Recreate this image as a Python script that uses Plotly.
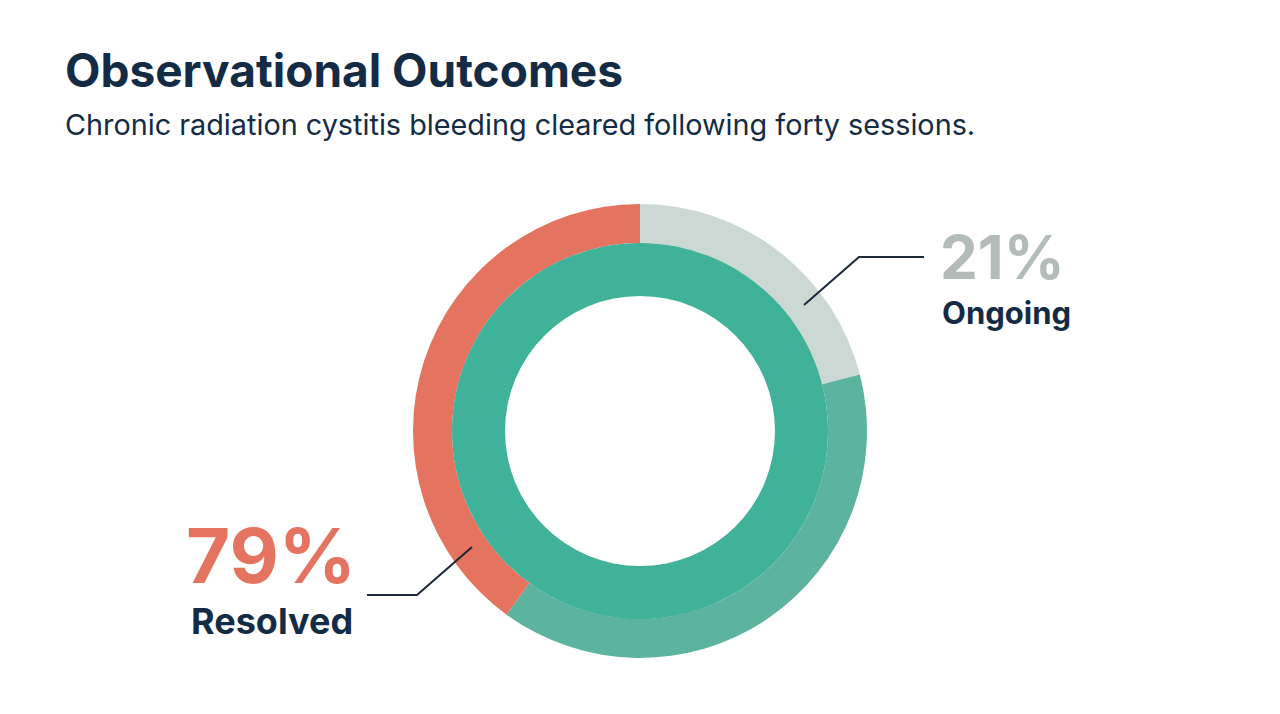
import plotly.graph_objects as go

# ---- data ----
outcome_labels = ["Resolved", "Ongoing"]
outcome_pct = [79, 21]

# outer ring arcs (clockwise from 12 o'clock), % of circle
outer_labels = ["Ongoing", "Resolved (lower arc)", "Resolved (left arc)"]
outer_values = [21, 39, 40]

# inner ring: one full band
inner_labels = ["Sessions"]
inner_values = [40]

title_text = "Observational Outcomes"
subtitle_text = "Chronic radiation cystitis bleeding cleared following forty sessions."

W, H = 1280, 714
NAVY = "#132B45"
RED = "#E4735F"
GRAY = "#CBD8D4"
TEAL_OUT = "#5CB3A0"
TEAL_IN = "#40B29A"
GRAY_TEXT = "#B3BCB9"
FONT = "Inter"


def px(x):
    return x / W


def py(y):
    return 1 - y / H


cx, cy = 640, 431
r_out, r_mid, r_in = 227, 188, 135

fig = go.Figure()
fig.add_trace(go.Pie(
    labels=outer_labels, values=outer_values,
    marker=dict(colors=[GRAY, TEAL_OUT, RED], line=dict(width=0)),
    hole=r_mid / r_out, sort=False, direction="clockwise", rotation=0,
    textinfo="none", showlegend=False,
    domain=dict(x=[px(cx - r_out), px(cx + r_out)], y=[py(cy + r_out), py(cy - r_out)]),
))
fig.add_trace(go.Pie(
    labels=inner_labels, values=inner_values,
    marker=dict(colors=[TEAL_IN], line=dict(width=0)),
    hole=r_in / r_mid, sort=False, direction="clockwise", rotation=0,
    textinfo="none", showlegend=False,
    domain=dict(x=[px(cx - r_mid), px(cx + r_mid)], y=[py(cy + r_mid), py(cy - r_mid)]),
))

annotations = [
    dict(text=title_text, x=px(63), y=py(70), font=dict(family=FONT, size=46, color=NAVY, weight=700)),
    dict(text=subtitle_text, x=px(63), y=py(124), font=dict(family=FONT, size=28.8, color=NAVY)),
    dict(text=f"{outcome_pct[1]}%", x=px(938), y=py(257), font=dict(family=FONT, size=60, color=GRAY_TEXT, weight=700)),
    dict(text=outcome_labels[1], x=px(940), y=py(312), font=dict(family=FONT, size=31, color=NAVY, weight=700)),
    dict(text=f"{outcome_pct[0]}%", x=px(184), y=py(555), font=dict(family=FONT, size=76, color=RED, weight=700)),
    dict(text=outcome_labels[0], x=px(189), y=py(621), font=dict(family=FONT, size=36, color=NAVY, weight=700)),
]
for a in annotations:
    a.update(xref="paper", yref="paper", xanchor="left", yanchor="middle", showarrow=False)

shapes = [
    dict(type="path", xref="paper", yref="paper",
         path=f"M {px(804)},{py(305)} L {px(859)},{py(257)} L {px(924)},{py(257)}",
         line=dict(color="#1B2838", width=2)),
    dict(type="path", xref="paper", yref="paper",
         path=f"M {px(472)},{py(547)} L {px(417)},{py(595)} L {px(367)},{py(595)}",
         line=dict(color="#1B2838", width=2)),
]

fig.update_layout(
    width=W, height=H,
    margin=dict(l=0, r=0, t=0, b=0),
    paper_bgcolor="#FFFFFF", plot_bgcolor="#FFFFFF",
    annotations=annotations, shapes=shapes,
)

fig.write_html("out.html")
